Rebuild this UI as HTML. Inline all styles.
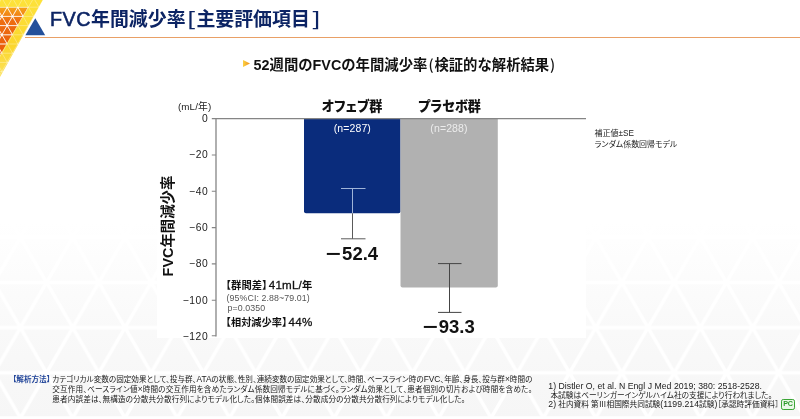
<!DOCTYPE html>
<html lang="ja">
<head>
<meta charset="utf-8">
<title>FVC年間減少率</title>
<style>
html,body{margin:0;padding:0;}
body{width:800px;height:419px;overflow:hidden;background:#fff;position:relative;
font-family:"Liberation Sans","Noto Sans CJK JP",sans-serif;color:#111;}
.abs{position:absolute;white-space:nowrap;line-height:1;}
#bgpat{position:absolute;left:0;top:200px;width:800px;height:219px;}
#title{left:50px;top:8.9px;font-size:18.9px;font-weight:700;color:#0c2464;letter-spacing:0px;}
#title .fvc{font-size:19.8px;letter-spacing:0.5px;-webkit-text-stroke:0.55px #0c2464;font-weight:400;}
#title .br{font-family:"Noto Sans CJK JP",sans-serif;font-weight:500;display:inline-block;transform:scaleX(1.35);}
#rule{position:absolute;left:25px;top:37px;width:775px;height:1.3px;background:#e9a066;}
#sub{left:253.6px;top:57.4px;font-size:14.35px;font-weight:700;color:#111;}
#sub .p{font-family:"Noto Sans CJK JP",sans-serif;font-weight:500;}
#arrow{position:absolute;left:242.6px;top:59.8px;width:7.4px;height:7.4px;background:linear-gradient(90deg,#fbd243,#f0901c);clip-path:polygon(0 0,100% 50%,0 100%);}
.lab{font-size:13.1px;font-weight:900;color:#111;transform:translateX(-50%);font-feature-settings:"palt";}
.n{font-size:10.5px;color:#fff;transform:translateX(-50%);letter-spacing:0.12px}
.val{font-size:18.5px;font-weight:700;color:#111;transform:translateX(-50%);}
.val .m{display:inline-block;transform:scaleX(1.4);margin:0 3.4px 0 2px;}
.L{font-size:11.6px;line-height:1px;font-weight:400;-webkit-text-stroke:0.3px #111;letter-spacing:0.2px}
.tick{font-size:10.3px;color:#222;text-align:right;width:40px;letter-spacing:0.55px;}
.small{font-size:8px;color:#222;}
.foot{font-size:7.6px;color:#1a1a1a;line-height:10.2px;font-feature-settings:"palt";}
.foot .l{font-size:8.4px;line-height:1px;}
.foot .r{font-size:8.7px;line-height:1px;letter-spacing:0.03px;}
</style>
</head>
<body>
<svg id="bgpat" viewBox="0 0 800 219">
<defs>
<linearGradient id="bgg" x1="0" y1="0" x2="0" y2="1">
<stop offset="0.1" stop-color="#f5f5f5" stop-opacity="0"/>
<stop offset="0.6" stop-color="#f5f5f5" stop-opacity="0.6"/>
<stop offset="1" stop-color="#f6f6f6" stop-opacity="1"/>
</linearGradient>
<pattern id="tri" width="52.3" height="90.4" patternUnits="userSpaceOnUse" patternTransform="translate(20.4 37.2)">
<path d="M0 0H52.3M0 45.2H52.3M0 90.4H52.3M0 0L52.3 90.4M52.3 0L0 90.4" stroke="#fff" stroke-width="3.4" fill="none"/>
</pattern>
</defs>
<rect width="800" height="219" fill="url(#bgg)"/>
<rect width="800" height="219" fill="url(#tri)"/>
<rect x="157" y="0" width="429" height="138" fill="#fff"/>
</svg>

<svg class="abs" style="left:0;top:0" width="60" height="80" viewBox="0 0 60 80">
<defs>
<linearGradient id="yg" x1="0" y1="0" x2="0" y2="1">
<stop offset="0" stop-color="#fde23a"/><stop offset="0.6" stop-color="#fbd62c"/><stop offset="1" stop-color="#fce25a"/>
</linearGradient>
<linearGradient id="og" x1="0" y1="0" x2="0" y2="1">
<stop offset="0" stop-color="#f6a41a"/><stop offset="0.28" stop-color="#ee6e10"/><stop offset="1" stop-color="#e9590c"/>
</linearGradient>
<clipPath id="yc"><polygon points="0,0 42.8,0 0,77"/></clipPath>
<clipPath id="oc"><polygon points="0,7.2 28.2,7.2 0,55"/></clipPath>
</defs>
<polygon points="0,0 42.8,0 0,77" fill="url(#yg)"/>
<polygon points="0,7.2 28.2,7.2 0,55" fill="url(#og)"/>
<g clip-path="url(#yc)" stroke="#fff" stroke-width="0.7" stroke-opacity="0.45">
<line x1="0" y1="-2.00" x2="60" y2="-2.00"/>
<line x1="0" y1="7.20" x2="60" y2="7.20"/>
<line x1="0" y1="16.40" x2="60" y2="16.40"/>
<line x1="0" y1="25.60" x2="60" y2="25.60"/>
<line x1="0" y1="34.80" x2="60" y2="34.80"/>
<line x1="0" y1="44.00" x2="60" y2="44.00"/>
<line x1="0" y1="53.20" x2="60" y2="53.20"/>
<line x1="0" y1="62.40" x2="60" y2="62.40"/>
<line x1="0" y1="71.60" x2="60" y2="71.60"/>
<line x1="0" y1="80.80" x2="60" y2="80.80"/>
<line x1="-73.44" y1="0" x2="-119.63" y2="80"/>
<line x1="-81.76" y1="0" x2="-35.57" y2="80"/>
<line x1="-62.84" y1="0" x2="-109.03" y2="80"/>
<line x1="-71.16" y1="0" x2="-24.97" y2="80"/>
<line x1="-52.24" y1="0" x2="-98.43" y2="80"/>
<line x1="-60.56" y1="0" x2="-14.37" y2="80"/>
<line x1="-41.64" y1="0" x2="-87.83" y2="80"/>
<line x1="-49.96" y1="0" x2="-3.77" y2="80"/>
<line x1="-31.04" y1="0" x2="-77.23" y2="80"/>
<line x1="-39.36" y1="0" x2="6.83" y2="80"/>
<line x1="-20.44" y1="0" x2="-66.63" y2="80"/>
<line x1="-28.76" y1="0" x2="17.43" y2="80"/>
<line x1="-9.84" y1="0" x2="-56.03" y2="80"/>
<line x1="-18.16" y1="0" x2="28.03" y2="80"/>
<line x1="0.76" y1="0" x2="-45.43" y2="80"/>
<line x1="-7.56" y1="0" x2="38.63" y2="80"/>
<line x1="11.36" y1="0" x2="-34.83" y2="80"/>
<line x1="3.04" y1="0" x2="49.23" y2="80"/>
<line x1="21.96" y1="0" x2="-24.23" y2="80"/>
<line x1="13.64" y1="0" x2="59.83" y2="80"/>
<line x1="32.56" y1="0" x2="-13.63" y2="80"/>
<line x1="24.24" y1="0" x2="70.43" y2="80"/>
<line x1="43.16" y1="0" x2="-3.03" y2="80"/>
<line x1="34.84" y1="0" x2="81.03" y2="80"/>
<line x1="53.76" y1="0" x2="7.57" y2="80"/>
<line x1="45.44" y1="0" x2="91.63" y2="80"/>
<line x1="64.36" y1="0" x2="18.17" y2="80"/>
<line x1="56.04" y1="0" x2="102.23" y2="80"/>
<line x1="74.96" y1="0" x2="28.77" y2="80"/>
<line x1="66.64" y1="0" x2="112.83" y2="80"/>
<line x1="85.56" y1="0" x2="39.37" y2="80"/>
<line x1="77.24" y1="0" x2="123.43" y2="80"/>
<line x1="96.16" y1="0" x2="49.97" y2="80"/>
<line x1="87.84" y1="0" x2="134.03" y2="80"/>
<line x1="106.76" y1="0" x2="60.57" y2="80"/>
<line x1="98.44" y1="0" x2="144.63" y2="80"/>
<line x1="117.36" y1="0" x2="71.17" y2="80"/>
<line x1="109.04" y1="0" x2="155.23" y2="80"/>
<line x1="127.96" y1="0" x2="81.77" y2="80"/>
<line x1="119.64" y1="0" x2="165.83" y2="80"/>
<line x1="138.56" y1="0" x2="92.37" y2="80"/>
<line x1="130.24" y1="0" x2="176.43" y2="80"/>
<line x1="149.16" y1="0" x2="102.97" y2="80"/>
<line x1="140.84" y1="0" x2="187.03" y2="80"/>
</g>
<g clip-path="url(#oc)" stroke="#fff" stroke-width="1" stroke-opacity="0.8">
<line x1="0" y1="-2.00" x2="60" y2="-2.00"/>
<line x1="0" y1="7.20" x2="60" y2="7.20"/>
<line x1="0" y1="16.40" x2="60" y2="16.40"/>
<line x1="0" y1="25.60" x2="60" y2="25.60"/>
<line x1="0" y1="34.80" x2="60" y2="34.80"/>
<line x1="0" y1="44.00" x2="60" y2="44.00"/>
<line x1="0" y1="53.20" x2="60" y2="53.20"/>
<line x1="0" y1="62.40" x2="60" y2="62.40"/>
<line x1="0" y1="71.60" x2="60" y2="71.60"/>
<line x1="0" y1="80.80" x2="60" y2="80.80"/>
<line x1="-73.44" y1="0" x2="-119.63" y2="80"/>
<line x1="-81.76" y1="0" x2="-35.57" y2="80"/>
<line x1="-62.84" y1="0" x2="-109.03" y2="80"/>
<line x1="-71.16" y1="0" x2="-24.97" y2="80"/>
<line x1="-52.24" y1="0" x2="-98.43" y2="80"/>
<line x1="-60.56" y1="0" x2="-14.37" y2="80"/>
<line x1="-41.64" y1="0" x2="-87.83" y2="80"/>
<line x1="-49.96" y1="0" x2="-3.77" y2="80"/>
<line x1="-31.04" y1="0" x2="-77.23" y2="80"/>
<line x1="-39.36" y1="0" x2="6.83" y2="80"/>
<line x1="-20.44" y1="0" x2="-66.63" y2="80"/>
<line x1="-28.76" y1="0" x2="17.43" y2="80"/>
<line x1="-9.84" y1="0" x2="-56.03" y2="80"/>
<line x1="-18.16" y1="0" x2="28.03" y2="80"/>
<line x1="0.76" y1="0" x2="-45.43" y2="80"/>
<line x1="-7.56" y1="0" x2="38.63" y2="80"/>
<line x1="11.36" y1="0" x2="-34.83" y2="80"/>
<line x1="3.04" y1="0" x2="49.23" y2="80"/>
<line x1="21.96" y1="0" x2="-24.23" y2="80"/>
<line x1="13.64" y1="0" x2="59.83" y2="80"/>
<line x1="32.56" y1="0" x2="-13.63" y2="80"/>
<line x1="24.24" y1="0" x2="70.43" y2="80"/>
<line x1="43.16" y1="0" x2="-3.03" y2="80"/>
<line x1="34.84" y1="0" x2="81.03" y2="80"/>
<line x1="53.76" y1="0" x2="7.57" y2="80"/>
<line x1="45.44" y1="0" x2="91.63" y2="80"/>
<line x1="64.36" y1="0" x2="18.17" y2="80"/>
<line x1="56.04" y1="0" x2="102.23" y2="80"/>
<line x1="74.96" y1="0" x2="28.77" y2="80"/>
<line x1="66.64" y1="0" x2="112.83" y2="80"/>
<line x1="85.56" y1="0" x2="39.37" y2="80"/>
<line x1="77.24" y1="0" x2="123.43" y2="80"/>
<line x1="96.16" y1="0" x2="49.97" y2="80"/>
<line x1="87.84" y1="0" x2="134.03" y2="80"/>
<line x1="106.76" y1="0" x2="60.57" y2="80"/>
<line x1="98.44" y1="0" x2="144.63" y2="80"/>
<line x1="117.36" y1="0" x2="71.17" y2="80"/>
<line x1="109.04" y1="0" x2="155.23" y2="80"/>
<line x1="127.96" y1="0" x2="81.77" y2="80"/>
<line x1="119.64" y1="0" x2="165.83" y2="80"/>
<line x1="138.56" y1="0" x2="92.37" y2="80"/>
<line x1="130.24" y1="0" x2="176.43" y2="80"/>
<line x1="149.16" y1="0" x2="102.97" y2="80"/>
<line x1="140.84" y1="0" x2="187.03" y2="80"/>
</g>
<g clip-path="url(#oc)" fill="#fff" fill-opacity="0.55" stroke="none">
<circle cx="7.20" cy="7.20" r="1.1"/>
<circle cx="17.80" cy="7.20" r="1.1"/>
<circle cx="28.40" cy="7.20" r="1.1"/>
<circle cx="39.00" cy="7.20" r="1.1"/>
<circle cx="1.90" cy="16.40" r="1.1"/>
<circle cx="12.50" cy="16.40" r="1.1"/>
<circle cx="23.10" cy="16.40" r="1.1"/>
<circle cx="33.70" cy="16.40" r="1.1"/>
<circle cx="44.30" cy="16.40" r="1.1"/>
<circle cx="7.20" cy="25.60" r="1.1"/>
<circle cx="17.80" cy="25.60" r="1.1"/>
<circle cx="28.40" cy="25.60" r="1.1"/>
<circle cx="39.00" cy="25.60" r="1.1"/>
<circle cx="1.90" cy="34.80" r="1.1"/>
<circle cx="12.50" cy="34.80" r="1.1"/>
<circle cx="23.10" cy="34.80" r="1.1"/>
<circle cx="33.70" cy="34.80" r="1.1"/>
<circle cx="44.30" cy="34.80" r="1.1"/>
<circle cx="7.20" cy="44.00" r="1.1"/>
<circle cx="17.80" cy="44.00" r="1.1"/>
<circle cx="28.40" cy="44.00" r="1.1"/>
<circle cx="39.00" cy="44.00" r="1.1"/>
<circle cx="1.90" cy="53.20" r="1.1"/>
<circle cx="12.50" cy="53.20" r="1.1"/>
<circle cx="23.10" cy="53.20" r="1.1"/>
<circle cx="33.70" cy="53.20" r="1.1"/>
<circle cx="7.20" cy="62.40" r="1.1"/>
<circle cx="17.80" cy="62.40" r="1.1"/>
<circle cx="28.40" cy="62.40" r="1.1"/>
</g>
<polygon points="35.3,18.2 45.2,35.2 25.4,35.2" fill="#24509a"/>
</svg>

<div id="title" class="abs"><span class="fvc">FVC</span>年間減少率<span class="br" style="margin-left:2.2px;margin-right:2px">[</span>主要評価項目<span class="br" style="margin-left:3px">]</span></div>
<div id="rule"></div>
<div id="arrow"></div>
<div id="sub" class="abs">52週間のFVCの年間減少率<span class="p" style="margin:0 0.8px 0 1.2px">(</span>検証的な解析結果<span class="p" style="margin-left:0.8px">)</span></div>

<!-- chart -->
<svg class="abs" style="left:0;top:0" width="800" height="419" viewBox="0 0 800 419">
<path d="M304 118H400.5V211.3Q400.5 213.3 398.5 213.3H306Q304 213.3 304 211.3Z" fill="#0a2c7c"/>
<path d="M400.5 118H497.8V285.6Q497.8 287.6 495.8 287.6H402.5Q400.5 287.6 400.5 285.6Z" fill="#b1b1b1"/>
<g stroke="#858585" stroke-width="1.3" fill="none">
<path d="M216 118V336.4"/>
<path d="M211.8 118.7H586"/>
<path d="M211.8 155H216M211.8 191.3H216M211.8 227.6H216M211.8 263.9H216M211.8 300.2H216M211.8 335.8H216" stroke-width="1.1"/>
</g>
<g fill="none" stroke-width="1">
<path d="M341 188.5H365.5M352.5 188.5V213.3" stroke="#9fb4d8"/>
<path d="M352.5 213.3V238.8M341 238.8H365.5" stroke="#5a5a5a"/>
<path d="M438 263.6H461.5M449.5 263.6V312.4M438 312.4H461.5" stroke="#444"/>
</g>
</svg>

<div class="abs small" style="left:178px;top:101.8px;font-size:9.8px;letter-spacing:0.1px">(mL/年)</div>
<div class="abs tick" style="left:168.2px;top:113.7px">0</div>
<div class="abs tick" style="left:168.2px;top:150.2px">−20</div>
<div class="abs tick" style="left:168.2px;top:186.5px">−40</div>
<div class="abs tick" style="left:168.2px;top:222.9px">−60</div>
<div class="abs tick" style="left:168.2px;top:259.2px">−80</div>
<div class="abs tick" style="left:168.2px;top:295.5px">−100</div>
<div class="abs tick" style="left:168.2px;top:331.7px">−120</div>

<div class="abs" style="left:168px;top:226.3px;font-size:14.4px;font-weight:700;transform:translate(-50%,-50%) rotate(-90deg);">FVC年間減少率</div>

<div class="abs lab" style="left:352px;top:99.7px">オフェブ群</div>
<div class="abs lab" style="left:449.5px;top:99.7px">プラセボ群</div>
<div class="abs n" style="left:352.3px;top:122.6px">(n=287)</div>
<div class="abs n" style="left:449px;top:122.6px;color:#ececec">(n=288)</div>
<div class="abs val" style="left:352px;top:245.3px"><span class="m">−</span>52.4</div>
<div class="abs val" style="left:448.6px;top:317.8px"><span class="m">−</span>93.3</div>

<div class="abs" style="left:224.8px;top:281.4px;font-size:10.3px;font-weight:700"><span style="margin-left:-4px">【</span>群間差<span style="margin-right:-3.5px">】</span><span class="L">41mL/</span>年</div>
<div class="abs small" style="left:226.5px;top:293.6px;color:#555;font-size:8.8px;letter-spacing:0.1px">(95%CI: 2.88~79.01)</div>
<div class="abs small" style="left:227.5px;top:304.3px;color:#555;font-size:8.8px;letter-spacing:0.1px">p=0.0350</div>
<div class="abs" style="left:224.8px;top:317.6px;font-size:10.2px;font-weight:700"><span style="margin-left:-4px">【</span>相対減少率<span style="margin-right:-3.5px">】</span><span class="L">44%</span></div>

<div class="abs small" style="left:594.6px;top:129.8px;font-feature-settings:'palt'">補正値<span style="font-size:8.2px;line-height:1px">±SE</span></div>
<div class="abs small" style="left:594.6px;top:140.6px;font-feature-settings:'palt';font-size:7.95px">ランダム係数回帰モデル</div>

<div class="abs foot" style="left:15.5px;top:375.3px;color:#23469a;font-weight:700"><span style="margin-left:-3px">【</span>解析方法<span>】</span></div>
<div class="abs foot" style="left:52.3px;top:375.3px;line-height:9.85px">カテゴリカル変数の固定効果として、投与群、<span class="l">ATA</span>の状態、性別、連続変数の固定効果として、時間、ベースライン時の<span class="l">FVC</span>、年齢、身長、投与群<span class="l">×</span>時間の<br><span style="letter-spacing:0.16px">交互作用、ベースライン値<span class="l">×</span>時間の交互作用を含めたランダム係数回帰モデルに基づく。ランダム効果として、患者個別の切片および時間を含めた。</span><br><span style="letter-spacing:0.125px">患者内誤差は、無構造の分散共分散行列によりモデル化した。個体間誤差は、分散成分の分散共分散行列によりモデル化した。</span></div>

<div class="abs foot" style="left:548.3px;top:383.4px;font-size:7.7px;line-height:8.6px"><span class="r">1) Distler O, et al. N Engl J Med 2019; 380: 2518-2528.</span><br>&nbsp;本試験はベーリンガーインゲルハイム社の支援により行われました。<br><span class="r">2)</span> 社内資料 第Ⅲ相国際共同試験<span class="r">(1199.214</span>試験<span class="r">)</span>［承認時評価資料］</div>

<div class="abs" style="left:781px;top:399.4px;width:11.8px;height:8.6px;border:1px solid #3aa535;border-radius:2.2px;background:#eaf7e8;color:#2c9a2a;font-size:7.2px;font-weight:700;text-align:center;line-height:8.8px;letter-spacing:-0.3px">PC</div>

</body>
</html>
